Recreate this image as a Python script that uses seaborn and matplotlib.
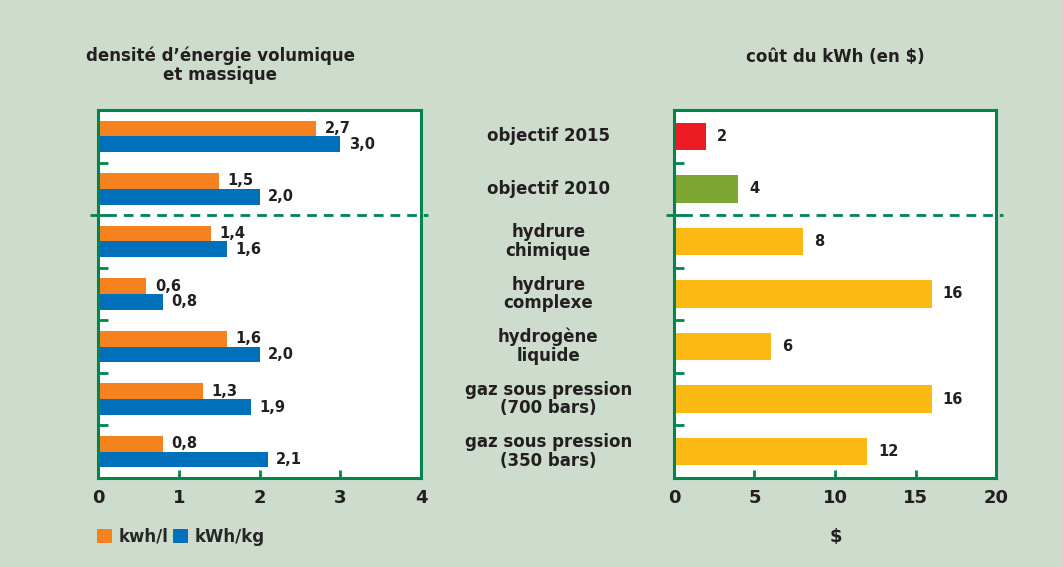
import pandas as pd
import numpy as np
import matplotlib.pyplot as plt
import seaborn as sns
from matplotlib.patches import Patch

# data
categories = ['objectif 2015', 'objectif 2010', 'hydrure\nchimique', 'hydrure\ncomplexe',
              'hydrogène\nliquide', 'gaz sous pression\n(700 bars)', 'gaz sous pression\n(350 bars)']
kwh_l = [2.7, 1.5, 1.4, 0.6, 1.6, 1.3, 0.8]
kwh_kg = [3.0, 2.0, 1.6, 0.8, 2.0, 1.9, 2.1]
cost = [2, 4, 8, 16, 6, 16, 12]
cost_colors = ['#ed1c24', '#7ea632', '#fdb913', '#fdb913', '#fdb913', '#fdb913', '#fdb913']
series_names = ['kwh/l', 'kWh/kg']

sns.set_style('white')
plt.rcParams['font.family'] = ['DejaVu Sans']
plt.rcParams['font.weight'] = 'bold'

BG = '#cedcce'
FRAME = '#00854a'
TXT = '#231f20'

dens = pd.DataFrame({
    'cat': categories * 2,
    'val': kwh_l + kwh_kg,
    'serie': [series_names[0]] * 7 + [series_names[1]] * 7,
})
cout = pd.DataFrame({'cat': categories, 'val': cost})

fig = plt.figure(figsize=(10.63, 5.67), dpi=100, facecolor=BG)
ax1 = fig.add_axes([0.0922, 0.157, 0.3039, 0.649])
ax2 = fig.add_axes([0.634, 0.157, 0.303, 0.649])

sns.barplot(data=dens, y='cat', x='val', hue='serie', palette=['#f5821f', '#0070bb'],
            width=0.6, ax=ax1, legend=False, saturation=1, linewidth=0)
sns.barplot(data=cout, y='cat', x='val', hue='cat', palette=cost_colors,
            width=0.52, ax=ax2, legend=False, saturation=1, linewidth=0)

# value labels
for cont in ax1.containers:
    ax1.bar_label(cont, labels=[f'{v:.1f}'.replace('.', ',') for v in cont.datavalues],
                  padding=6, fontsize=10.5, fontweight='bold', color=TXT)
for cont in ax2.containers:
    ax2.bar_label(cont, labels=[f'{v:g}' for v in cont.datavalues],
                  padding=8, fontsize=10.5, fontweight='bold', color=TXT)

for ax, xmax, step in [(ax1, 4, 1), (ax2, 20, 5)]:
    ax.set_facecolor('white')
    ax.set_xlim(0, xmax)
    ax.set_ylim(6.5, -0.5)
    ax.set_xticks(np.arange(0, xmax + 0.1, step))
    ax.set_yticks([])
    ax.set_yticks(np.arange(0.5, 6, 1), minor=True)
    ax.tick_params(axis='x', direction='in', length=6, width=2, color=FRAME,
                   labelsize=13, labelcolor=TXT, pad=8, bottom=True)
    ax.tick_params(axis='y', which='minor', direction='in', length=7, width=2,
                   color=FRAME, left=True)
    for lab in ax.get_xticklabels():
        lab.set_fontweight('bold')
    for s in ax.spines.values():
        s.set_color(FRAME)
        s.set_linewidth(2.2)
    ax.set_xlabel('')
    ax.set_ylabel('')
    ax.axhline(1.5, xmin=-0.025, xmax=1.022, color=FRAME, lw=2, ls=(0, (3.5, 2.5)),
               clip_on=False, zorder=5)

# category labels in the middle
for i, c in enumerate(categories):
    ax2.text(-0.39, i, c, transform=ax2.get_yaxis_transform(), ha='center', va='center',
             fontsize=12, fontweight='bold', color=TXT, linespacing=1.05)

fig.text(0.207, 0.885, "densité d\u2019énergie volumique\net massique", ha='center', va='center',
         fontsize=12, fontweight='bold', color=TXT, linespacing=1.1)
fig.text(0.786, 0.9, 'coût du kWh (en $)', ha='center', va='center',
         fontsize=12, fontweight='bold', color=TXT)
fig.text(0.786, 0.053, '$', ha='center', va='center', fontsize=13, fontweight='bold', color=TXT)

handles = [Patch(facecolor='#f5821f', linewidth=0), Patch(facecolor='#0070bb', linewidth=0)]
fig.legend(handles, series_names, loc='center left', bbox_to_anchor=(0.077, 0.053), ncol=2,
           frameon=False, handlelength=0.9, handleheight=0.9, handletextpad=0.4,
           columnspacing=0.3, prop={'weight': 'bold', 'size': 12})

fig.savefig('out.png', dpi=100, facecolor=BG)
